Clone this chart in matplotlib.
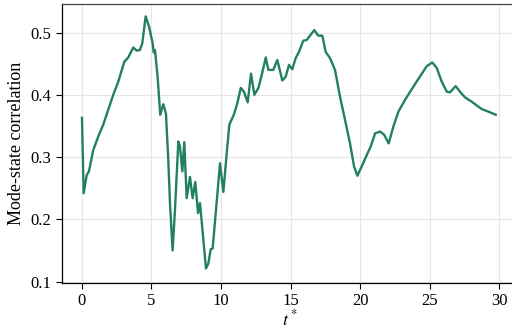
import matplotlib
matplotlib.use("Agg")
import matplotlib.pyplot as plt

# Time (dimensionless) and mode-state correlation
t_star = [0.00, 0.12, 0.34, 0.50, 0.81, 1.17, 1.53, 1.89, 2.25, 2.61,
          3.04, 3.33, 3.69, 3.93, 4.17, 4.34, 4.58, 4.82, 5.08, 5.16,
          5.25, 5.44, 5.63, 5.85, 6.04, 6.21, 6.33, 6.52, 6.69, 6.93,
          7.05, 7.22, 7.36, 7.53, 7.77, 7.96, 8.15, 8.35, 8.49, 8.68,
          8.92, 9.09, 9.26, 9.40, 9.64, 9.93, 10.17, 10.41, 10.60, 10.94,
          11.18, 11.42, 11.65, 11.92, 12.16, 12.40, 12.69, 12.93, 13.22, 13.41,
          13.76, 14.05, 14.41, 14.65, 14.89, 15.13, 15.37, 15.61, 15.92, 16.16,
          16.40, 16.71, 17.00, 17.29, 17.53, 17.84, 18.20, 18.56, 18.92, 19.28,
          19.57, 19.81, 20.12, 20.48, 20.77, 21.08, 21.44, 21.73, 22.06, 22.40,
          22.76, 23.24, 23.72, 24.27, 24.80, 25.20, 25.52, 25.88, 26.24, 26.47,
          26.88, 27.19, 27.55, 28.03, 28.76, 29.23, 29.76]
correlation = [0.363, 0.242, 0.271, 0.277, 0.311, 0.333, 0.352, 0.376, 0.400, 0.421,
               0.453, 0.460, 0.476, 0.471, 0.472, 0.483, 0.526, 0.510, 0.483, 0.468,
               0.472, 0.429, 0.368, 0.385, 0.370, 0.295, 0.226, 0.150, 0.215, 0.325,
               0.317, 0.277, 0.324, 0.234, 0.268, 0.234, 0.260, 0.210, 0.226, 0.180,
               0.121, 0.129, 0.152, 0.153, 0.215, 0.290, 0.244, 0.306, 0.352, 0.369,
               0.387, 0.411, 0.405, 0.388, 0.434, 0.400, 0.411, 0.432, 0.460, 0.440,
               0.440, 0.456, 0.423, 0.429, 0.448, 0.441, 0.459, 0.469, 0.487, 0.488,
               0.495, 0.504, 0.495, 0.495, 0.469, 0.459, 0.440, 0.397, 0.360, 0.322,
               0.285, 0.270, 0.285, 0.303, 0.317, 0.338, 0.341, 0.336, 0.322, 0.349,
               0.373, 0.392, 0.409, 0.428, 0.446, 0.452, 0.443, 0.421, 0.405, 0.404,
               0.414, 0.405, 0.396, 0.389, 0.377, 0.373, 0.368]

x_ticks = [0, 5, 10, 15, 20, 25, 30]
y_ticks = [0.1, 0.2, 0.3, 0.4, 0.5]

plt.rcParams["font.family"] = ["Liberation Serif", "DejaVu Serif"]
plt.rcParams["mathtext.fontset"] = "stix"

fig = plt.figure(figsize=(5.12, 3.28), dpi=100)
ax = fig.add_axes([0.121, 0.137, 0.889, 0.851])

ax.plot(t_star, correlation, color="#23805f", linewidth=1.7,
        solid_joinstyle="round")

ax.set_xlim(-1.44, 31.3)
ax.set_ylim(0.0976, 0.546)
ax.set_xticks(x_ticks)
ax.set_yticks(y_ticks)
ax.grid(True, color="#e6e6e6", linewidth=0.8)
ax.set_axisbelow(True)
ax.tick_params(axis="both", labelsize=12, length=4, width=0.8, direction="out")

ax.set_xlabel("$t^*$", fontsize=13, labelpad=0)
ax.set_ylabel("Mode-state correlation", fontsize=13, labelpad=4)

for s in ax.spines.values():
    s.set_linewidth(0.9)
ax.spines["top"].set_color("#444444")

fig.savefig("out.png", dpi=100)
